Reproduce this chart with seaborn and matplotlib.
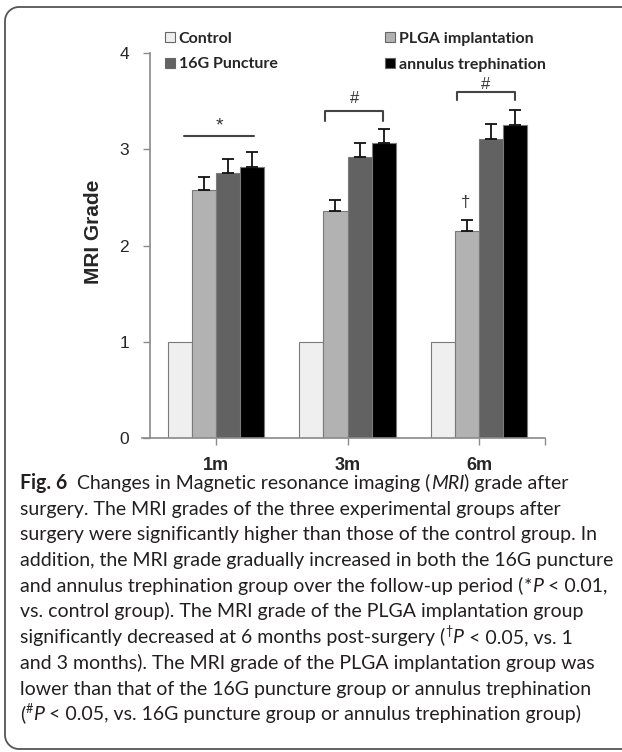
import numpy as np
import pandas as pd
import matplotlib
matplotlib.use("Agg")
import matplotlib.pyplot as plt
import seaborn as sns
from matplotlib.patches import Patch
from matplotlib.lines import Line2D

# -----------------------------
# Data
# -----------------------------
months = ["1m", "3m", "6m"]
groups = ["Control", "PLGA implantation", "16G Puncture", "annulus trephination"]
control = [1.0, 1.0, 1.0]
plga = [2.58, 2.36, 2.15]
puncture = [2.75, 2.92, 3.11]
trephination = [2.82, 3.06, 3.25]
control_err = [0.0, 0.0, 0.0]
plga_err = [0.13, 0.11, 0.11]
puncture_err = [0.15, 0.14, 0.15]
trephination_err = [0.15, 0.15, 0.16]
y_ticks = [0, 1, 2, 3, 4]

colors = ["#efefef", "#b2b2b2", "#626262", "#000000"]

rows = []
for g, vals, errs in zip(groups, [control, plga, puncture, trephination],
                         [control_err, plga_err, puncture_err, trephination_err]):
    for m, v, e in zip(months, vals, errs):
        rows.append({"Month": m, "Group": g, "Grade": v, "Err": e})
df = pd.DataFrame(rows)

# -----------------------------
# Figure
# -----------------------------
W, H = 622, 752
sns.set_theme(style="white")
plt.rcParams["font.family"] = ["Liberation Sans", "DejaVu Sans"]

fig = plt.figure(figsize=(W / 100, H / 100), dpi=100)
ax = fig.add_axes([150 / W, 1 - 438 / H, 395 / W, 385 / H])

sns.barplot(data=df, x="Month", y="Grade", hue="Group", order=months, hue_order=groups,
            palette=colors, width=0.73, errorbar=None, edgecolor="#7a7a7a",
            linewidth=0.8, legend=False, ax=ax)

# one-sided error bars
for cont, g in zip(ax.containers, groups):
    errs = df[df["Group"] == g].set_index("Month").loc[months, "Err"].values
    if np.all(errs == 0):
        continue
    xs = [b.get_x() + b.get_width() / 2 for b in cont]
    hs = [b.get_height() for b in cont]
    ax.errorbar(xs, hs, yerr=[np.zeros(len(errs)), errs], fmt="none", ecolor="#111111",
                elinewidth=1.3, capsize=4.5, capthick=1.3, zorder=3)

ax.set_xlim(-0.5, 2.5)
ax.set_ylim(0, 4)
ax.set_yticks(y_ticks)
ax.set_xticks([0, 1, 2])
ax.set_xticks([2.5], minor=True)
ax.set_xticklabels(months, fontsize=13, fontweight="bold")
ax.set_yticklabels([str(t) for t in y_ticks], fontsize=12.5)
ax.tick_params(axis="y", left=True, length=5, width=1, color="#8a8a8a", pad=10)
ax.tick_params(axis="x", which="both", bottom=True, length=5, width=1, color="#8a8a8a", pad=9)
for s in ["top", "right"]:
    ax.spines[s].set_visible(False)
for s in ["left", "bottom"]:
    ax.spines[s].set_color("#8a8a8a")
    ax.spines[s].set_linewidth(1.2)
ax.spines["bottom"].set_bounds(-0.56, 2.5)
ax.set_xlabel("")
ax.set_ylabel("MRI Grade", fontsize=15, fontweight="bold")
ax.yaxis.set_label_coords(-0.119, 0.535)

# significance marks
ax.plot([-0.24, 0.29], [3.14, 3.14], color="#444444", lw=1.5)
ax.text(0.03, 3.24, "*", ha="center", va="center", fontsize=14, color="#333333")
ax.plot([0.83, 0.83, 1.27, 1.27], [3.29, 3.40, 3.40, 3.29], color="#444444", lw=1.5)
ax.text(1.05, 3.53, "#", ha="center", va="center", fontsize=12, color="#333333")
ax.plot([1.83, 1.83, 2.27, 2.27], [3.51, 3.60, 3.60, 3.51], color="#444444", lw=1.5)
ax.text(2.05, 3.67, "#", ha="center", va="center", fontsize=12, color="#333333")
ax.text(1.9, 2.45, "\u2020", ha="center", va="center", fontsize=12, color="#333333")

# legend (two columns placed separately)
handles = {g: Patch(facecolor=c, edgecolor="#666666", lw=0.8, label=g) for g, c in zip(groups, colors)}
leg_kw = dict(loc="upper left", frameon=False, handlelength=0.6, handleheight=0.6,
              handletextpad=0.25, labelspacing=0.72, borderpad=0, borderaxespad=0,
              prop={"family": "Lato", "weight": "bold", "size": 11.5})
fig.legend([handles["Control"], handles["16G Puncture"]], ["Control", "16G Puncture"],
           bbox_to_anchor=(165 / W, 1 - 32 / H), **leg_kw)
fig.legend([handles["PLGA implantation"], handles["annulus trephination"]],
           ["PLGA implantation", "annulus trephination"],
           bbox_to_anchor=(385 / W, 1 - 32 / H), **leg_kw)

# -----------------------------
# Caption
# -----------------------------
cap_font = ["Lato", "DejaVu Sans"]
cap_color = "#231f20"
caption = [
    [("Fig. 6", "b"), ("  Changes in Magnetic resonance imaging (", "n"), ("MRI", "i"), (") grade after", "n")],
    [("surgery. The MRI grades of the three experimental groups after", "n")],
    [("surgery were significantly higher than those of the control group. In", "n")],
    [("addition, the MRI grade gradually increased in both the 16G puncture", "n")],
    [("and annulus trephination group over the follow-up period (", "n"), ("*", "n"), ("P", "i"), (" < 0.01,", "n")],
    [("vs. control group). The MRI grade of the PLGA implantation group", "n")],
    [("significantly decreased at 6 months post-surgery (", "n"), ("\u2020", "s"), ("P", "i"), (" < 0.05, vs. 1", "n")],
    [("and 3 months). The MRI grade of the PLGA implantation group was", "n")],
    [("lower than that of the 16G puncture group or annulus trephination", "n")],
    [("(", "n"), ("#", "s"), ("P", "i"), (" < 0.05, vs. 16G puncture group or annulus trephination group)", "n")],
]

renderer = fig.canvas.get_renderer()

# fit font size to the widest line
probe = fig.text(0, 0, caption[3][0][0], fontsize=12, family=cap_font)
w_probe = probe.get_window_extent(renderer).width
probe.remove()
cap_size = 12 * 592 / w_probe


def draw_runs(x_px, base_px, runs):
    x = x_px
    for txt, st in runs:
        kw = dict(family=cap_font, color=cap_color, ha="left", va="baseline", fontsize=cap_size)
        y = base_px
        if st == "b":
            kw["fontweight"] = "bold"
        elif st == "i":
            kw["fontstyle"] = "italic"
        elif st == "s":
            kw["fontsize"] = cap_size * 0.65
            y = base_px - cap_size * 0.55
        t = fig.text(x / W, 1 - y / H, txt, **kw)
        x += t.get_window_extent(renderer).width


for i, runs in enumerate(caption):
    draw_runs(20, 489 + i * 25.7, runs)

# frame: top, left and bottom edges with rounded corners, open on the right
r = 14
x0, top, bot = 5, 7, 749
a = np.linspace(0, np.pi / 2, 20)
px = np.concatenate([[W + 20], x0 + r - r * np.sin(a), x0 + r - r * np.cos(a), [W + 20]])
py = np.concatenate([[top], top + r - r * np.cos(a), bot - r + r * np.sin(a), [bot]])
fig.add_artist(Line2D(px / W, 1 - py / H, transform=fig.transFigure,
                      color="#555555", lw=1.3))

fig.savefig("out.png", dpi=100)
